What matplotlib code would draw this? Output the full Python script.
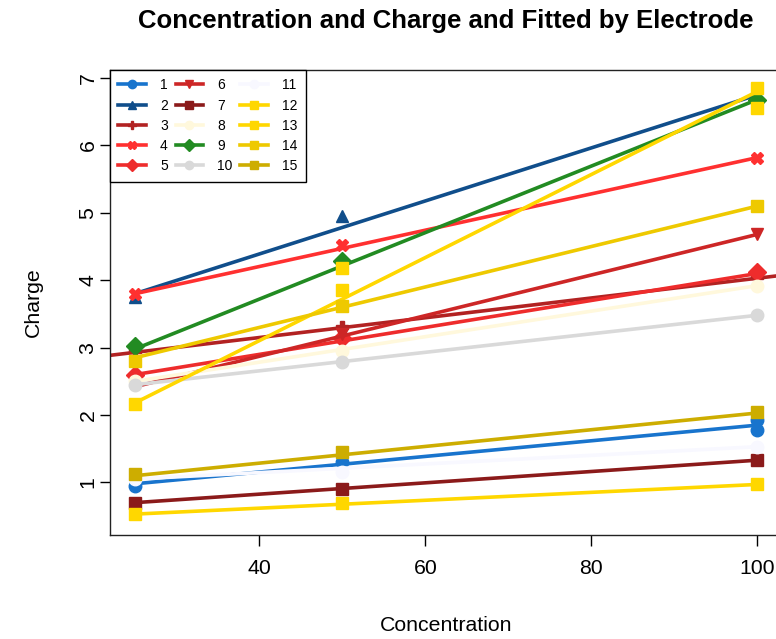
import matplotlib
matplotlib.use("Agg")
import matplotlib.pyplot as plt

plt.rcParams["font.family"] = ["Liberation Sans", "DejaVu Sans"]

# electrode ids, colours and markers (R-style colour names)
electrodes = [str(i) for i in range(1, 16)]
colors = ["#1874CD", "#104E8B", "#B22222", "#FF3030", "#EE2C2C",
          "#CD2626", "#8B1A1A", "#FFF8DC", "#228B22", "#D9D9D9",
          "#F8F8FF", "#FFD700", "#FFD700", "#EEC900", "#CDAD00"]
markers = ["o", "^", "P", "X", "D", "v", "s", "o", "D", "o",
           "o", "s", "s", "s", "s"]

# observed charge per electrode
obs_x = [
    [25, 50, 100, 100], [25, 50, 100], [25, 50, 100], [25, 50, 100],
    [25, 50, 100], [25, 50, 100], [25, 50, 100], [25, 50, 100],
    [25, 50, 100], [25, 50, 100], [25, 50, 100], [25, 50, 100],
    [25, 50, 50, 100, 100], [25, 50, 100], [25, 50, 100],
]
obs_y = [
    [0.95, 1.30, 1.93, 1.78], [3.75, 4.95, 6.72], [2.95, 3.30, 4.05],
    [3.80, 4.52, 5.82], [2.60, 3.15, 4.13], [2.45, 3.20, 4.68],
    [0.70, 0.90, 1.33], [2.50, 2.95, 3.92], [3.02, 4.28, 6.68],
    [2.45, 2.78, 3.48], [1.05, 1.16, 1.53], [0.53, 0.69, 0.97],
    [2.16, 4.18, 3.85, 6.85, 6.55], [2.80, 3.62, 5.10], [1.12, 1.45, 2.04],
]
# fitted line ends (at 25 and at 100)
fit_lo = [0.98, 3.80, 2.93, 3.80, 2.60, 2.42, 0.70, 2.50, 2.98, 2.45,
          1.05, 0.53, 2.18, 2.85, 1.10]
fit_hi = [1.85, 6.75, 4.03, 5.82, 4.10, 4.68, 1.33, 3.92, 6.68, 3.48,
          1.53, 0.97, 6.80, 5.10, 2.03]
fit_x = [25, 100]

fig = plt.figure(figsize=(7.76, 6.39), dpi=100)
# right edge of the plot box sits just outside the picture, as in the original
ax = fig.add_axes([110 / 776, (639 - 535) / 639, 672 / 776, 465 / 639])

for i, name in enumerate(electrodes):
    c = colors[i]
    if i == 2:
        ax.axline((fit_x[0], fit_lo[i]), (fit_x[1], fit_hi[i]), color=c, lw=2.6)
    else:
        ax.plot(fit_x, [fit_lo[i], fit_hi[i]], color=c, lw=2.6)
    ax.plot(obs_x[i], obs_y[i], linestyle="none", marker=markers[i],
            color=c, markersize=9)
    ax.plot([], [], color=c, lw=2.6, marker=markers[i], markersize=6,
            label=name)

ax.set_xlim(22, 103)
ax.set_ylim(0.22, 7.12)
ax.set_xticks([40, 60, 80, 100])
ax.set_yticks([1, 2, 3, 4, 5, 6, 7])
ax.tick_params(axis="both", direction="out", length=8, width=1,
               labelsize=15.3)
ax.tick_params(axis="x", pad=9.5)
ax.tick_params(axis="y", length=7, pad=2)
for lab in ax.get_yticklabels():
    lab.set_rotation(90)
    lab.set_va("center")
for s in ax.spines.values():
    s.set_linewidth(1)
    s.set_color("#222222")

ax.set_title("Concentration and Charge and Fitted by Electrode",
             fontsize=18.5, fontweight="bold", pad=30)
ax.set_xlabel("Concentration", fontsize=15.3, labelpad=27)
ax.set_ylabel("Charge", fontsize=15.3, labelpad=26)

leg = ax.legend(ncol=3, loc="upper left", borderaxespad=0, fontsize=10,
                frameon=True, fancybox=False, edgecolor="black",
                handlelength=2.0, handletextpad=1.0, columnspacing=0.55,
                labelspacing=0.45, borderpad=0.6, framealpha=1)
leg.get_frame().set_linewidth(1)

fig.savefig("out.png", dpi=100)
